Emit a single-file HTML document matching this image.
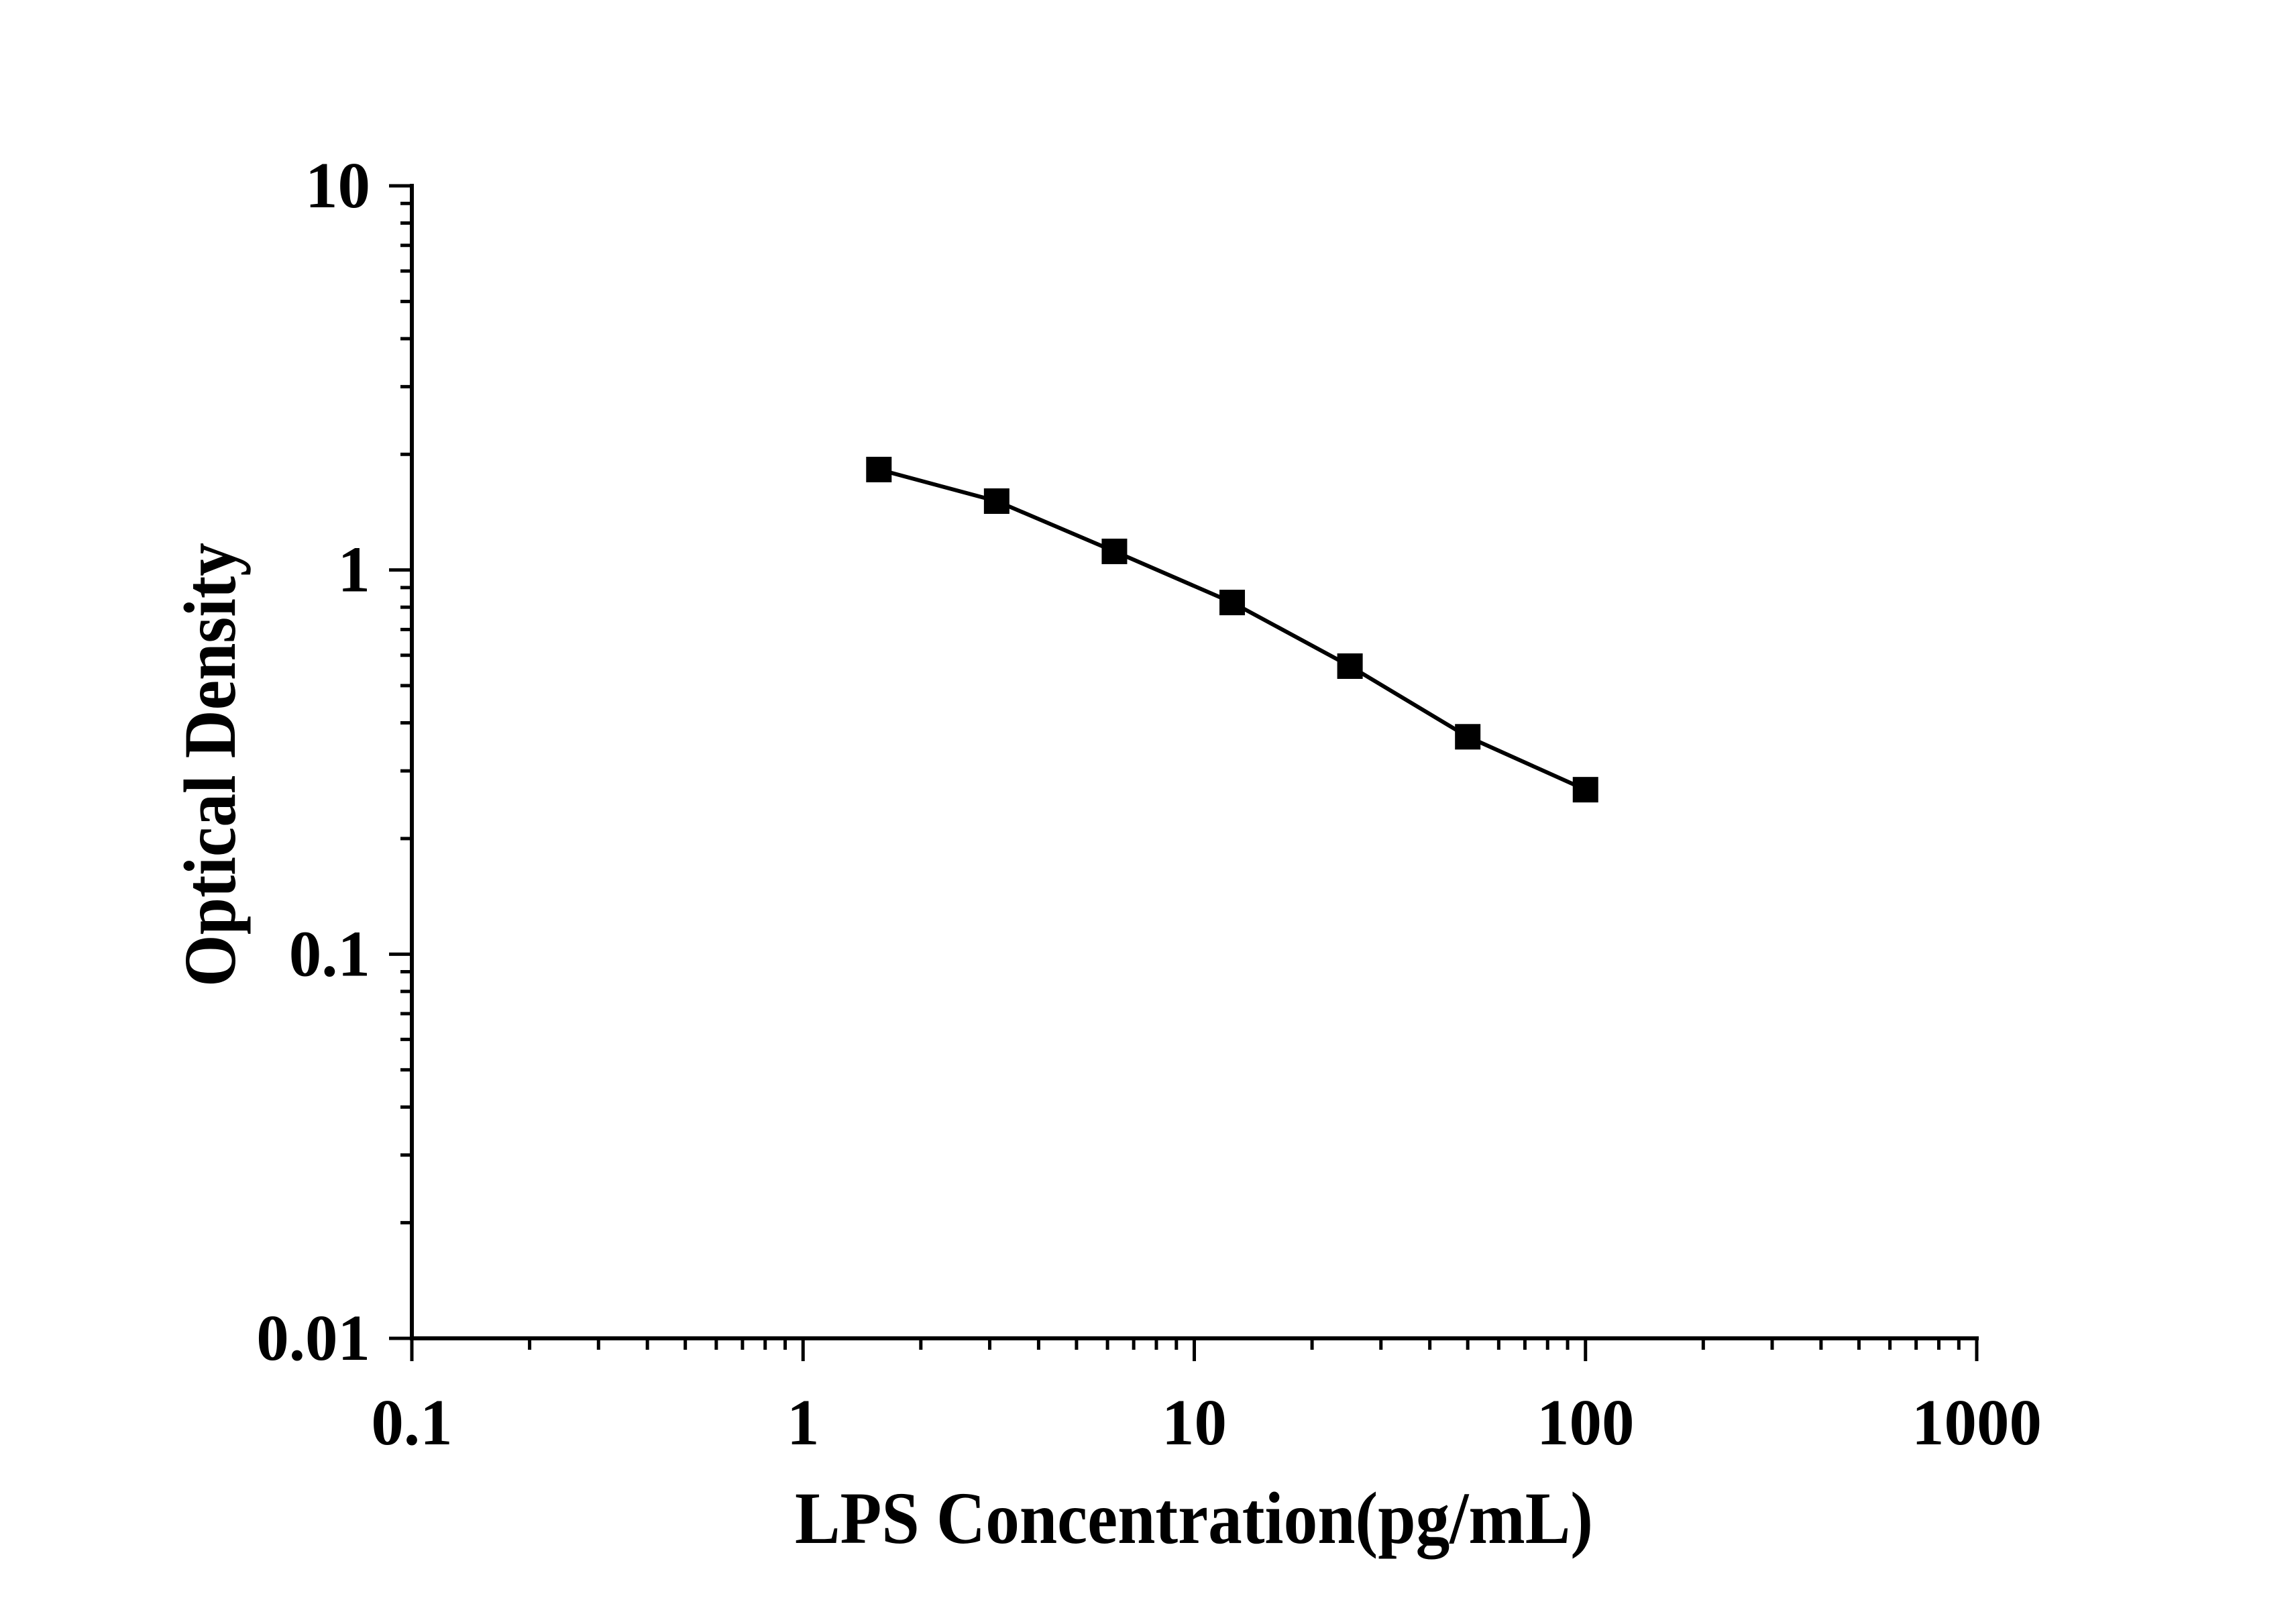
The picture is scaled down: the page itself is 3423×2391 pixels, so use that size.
<!DOCTYPE html>
<html><head><meta charset="utf-8"><style>html,body{margin:0;padding:0;background:#fff}svg{display:block}</style></head>
<body>
<svg id="chart" width="3423" height="2391" viewBox="0 0 3423 2391" xmlns="http://www.w3.org/2000/svg">
<rect width="3423" height="2391" fill="#fff"/>
<g id="axes"></g>
<g id="series"></g>
<text x="1780" y="2300" text-anchor="middle" font-family="Liberation Serif, serif" font-weight="bold" font-size="110" textLength="1190" lengthAdjust="spacingAndGlyphs">LPS Concentration(pg/mL)</text>
<text x="0" y="0" transform="translate(350,1140) rotate(-90)" text-anchor="middle" font-family="Liberation Serif, serif" font-weight="bold" font-size="110" textLength="662" lengthAdjust="spacingAndGlyphs">Optical Density</text>
</svg>
<script>
const concentrations = [1.5625, 3.125, 6.25, 12.5, 25, 50, 100];
const odValues = [1.826, 1.511, 1.118, 0.823, 0.562, 0.368, 0.268];
const xTickValues = [0.1, 1, 10, 100, 1000];
const xTickLabels = ["0.1", "1", "10", "100", "1000"];
const yTickValues = [0.01, 0.1, 1, 10];
const yTickLabels = ["0.01", "0.1", "1", "10"];

const NS = "http://www.w3.org/2000/svg";
const X0 = 614, X1 = 2947, Y0 = 1995, Y1 = 277;
const xMinL = -1, xMaxL = 3, yMinL = -2, yMaxL = 1;
function xs(v){ return X0 + (Math.log10(v) - xMinL) / (xMaxL - xMinL) * (X1 - X0); }
function ys(v){ return Y0 - (Math.log10(v) - yMinL) / (yMaxL - yMinL) * (Y0 - Y1); }
function mk(tag, attrs, parent){ const e = document.createElementNS(NS, tag); for (const k in attrs) e.setAttribute(k, attrs[k]); parent.appendChild(e); return e; }

const axes = document.getElementById('axes');
const yAxis = mk('line', {x1:X0, y1:Y0+3, x2:X0, y2:Y1-3, stroke:'#000', 'stroke-width':6}, axes);


const xAxis = mk('line', {x1:X0-3, y1:Y0, x2:X1+3, y2:Y0, stroke:'#000', 'stroke-width':6}, axes);



for (let d = xMinL; d <= xMaxL; d++) {
  for (let m = 1; m <= 9; m++) {
    if (d === xMaxL && m > 1) break;
    const v = m * Math.pow(10, d);
    const x = xs(v);
    const len = m === 1 ? 34 : 17;
    const t = mk('line', {x1:x, y1:Y0, x2:x, y2:Y0+len, stroke:'#000', 'stroke-width':5}, axes);
    
    
  }
}
xTickValues.forEach((v, i) => {
  const t = mk('text', {x:xs(v), y:2153, 'text-anchor':'middle', 'font-family':'Liberation Serif, serif', 'font-weight':'bold', 'font-size':97}, axes);
  t.textContent = xTickLabels[i];
  
  
});
for (let d = yMinL; d <= yMaxL; d++) {
  for (let m = 1; m <= 9; m++) {
    if (d === yMaxL && m > 1) break;
    const v = m * Math.pow(10, d);
    const y = ys(v);
    const len = m === 1 ? 34 : 17;
    const t = mk('line', {x1:X0, y1:y, x2:X0-len, y2:y, stroke:'#000', 'stroke-width':5}, axes);
    
    
  }
}
yTickValues.forEach((v, i) => {
  const t = mk('text', {x:552, y:ys(v)+32, 'text-anchor':'end', 'font-family':'Liberation Serif, serif', 'font-weight':'bold', 'font-size':97}, axes);
  t.textContent = yTickLabels[i];
  
  
});

const series = document.getElementById('series');
const pts = concentrations.map((c, i) => xs(c) + ',' + ys(odValues[i])).join(' ');
const line = mk('polyline', {points:pts, fill:'none', stroke:'#000', 'stroke-width':6, 'stroke-linejoin':'round'}, series);


concentrations.forEach((c, i) => {
  const s = 38;
  const r = mk('rect', {x:xs(c)-s/2, y:ys(odValues[i])-s/2, width:s, height:s, fill:'#000'}, series);
  
  
});
</script>
</body></html>
